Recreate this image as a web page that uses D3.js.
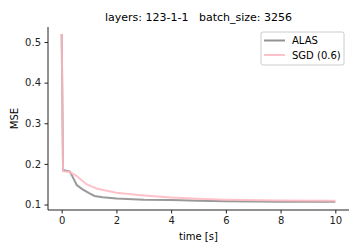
<!DOCTYPE html>
<html>
<head>
<meta charset="utf-8">
<script src="https://cdn.jsdelivr.net/npm/d3@7"></script>
<style>
  body { margin: 0; background: #fff; }
  text { font-family: "DejaVu Sans", sans-serif; }
</style>
</head>
<body>
<div id="app"></div>
<script>
// time [s] and MSE
const alasTime = [0, 0.05, 0.3, 0.4, 0.55, 0.75, 1.0, 1.2, 1.5, 2, 3, 4, 5, 6, 8, 10];
const alasMse = [0.52, 0.185, 0.181, 0.168, 0.148, 0.138, 0.128, 0.121, 0.118, 0.115, 0.112, 0.111, 0.109, 0.108, 0.107, 0.107];
const sgdTime = [0, 0.05, 0.3, 0.55, 0.9, 1.3, 2, 2.9, 4, 5, 6, 8, 10];
const sgdMse = [0.52, 0.182, 0.18, 0.17, 0.15, 0.139, 0.129, 0.123, 0.117, 0.114, 0.112, 0.11, 0.109];
const xTicks = [0, 2, 4, 6, 8, 10];
const yTicks = [0.1, 0.2, 0.3, 0.4, 0.5];
const seriesNames = ["ALAS", "SGD (0.6)"];

const w = 360, h = 252;
const m = { left: 48, right: 11, top: 27, bottom: 42 };

const svg = d3.select("#app").append("svg").attr("width", w).attr("height", h);

const x = d3.scaleLinear().domain([-0.5, 10.5]).range([m.left, w - m.right]);
const y = d3.scaleLinear().domain([0.0865, 0.537]).range([h - m.bottom, m.top]);

// axes
const xAxis = d3.axisBottom(x).tickValues(xTicks).tickSize(3.5).tickPadding(3.5).tickFormat(d3.format("d"));
const yAxis = d3.axisLeft(y).tickValues(yTicks).tickSize(3.5).tickPadding(3.5).tickFormat(d3.format(".1f"));

svg.append("g")
  .attr("transform", "translate(0," + (h - m.bottom) + ")")
  .call(xAxis)
  .call(g => g.select(".domain").attr("d", `M${m.left},0H${w - m.right}`));
svg.append("g")
  .attr("transform", "translate(" + m.left + ",0)")
  .call(yAxis)
  .call(g => g.select(".domain").attr("d", `M0,${m.top}V${h - m.bottom}`));
svg.selectAll(".tick text").attr("font-size", 10).attr("fill", "#222");
svg.selectAll(".tick line").attr("stroke", "#222");
svg.selectAll(".domain").attr("stroke", "#222");

// lines
const line = d3.line().x(d => x(d[0])).y(d => y(d[1]));
svg.append("path")
  .datum(d3.zip(alasTime, alasMse))
  .attr("d", line)
  .attr("fill", "none")
  .attr("stroke", "grey")
  .attr("stroke-opacity", 0.8)
  .attr("stroke-width", 2);
svg.append("path")
  .datum(d3.zip(sgdTime, sgdMse))
  .attr("d", line)
  .attr("fill", "none")
  .attr("stroke", "lightpink")
  .attr("stroke-opacity", 0.85)
  .attr("stroke-width", 2);

// labels
svg.append("text")
  .attr("x", (m.left + w - m.right) / 2).attr("y", 20.5)
  .attr("text-anchor", "middle").attr("font-size", 11)
  .text("layers: 123-1-1\u00a0\u00a0\u00a0batch_size: 3256");
svg.append("text")
  .attr("x", (m.left + w - m.right) / 2).attr("y", 239.5)
  .attr("text-anchor", "middle").attr("font-size", 10)
  .text("time [s]");
svg.append("text")
  .attr("transform", "translate(18," + ((m.top + h - m.bottom) / 2) + ") rotate(-90)")
  .attr("text-anchor", "middle").attr("font-size", 10)
  .text("MSE");

// legend
const lg = svg.append("g").attr("transform", "translate(261,32)");
lg.append("rect")
  .attr("width", 83).attr("height", 33).attr("rx", 2)
  .attr("fill", "white").attr("fill-opacity", 0.8)
  .attr("stroke", "#ccc");
const colors = ["grey", "lightpink"];
seriesNames.forEach((name, i) => {
  lg.append("line")
    .attr("x1", 3).attr("x2", 24)
    .attr("y1", 8.5 + i * 14.5).attr("y2", 8.5 + i * 14.5)
    .attr("stroke", colors[i]).attr("stroke-opacity", 0.85).attr("stroke-width", 2);
  lg.append("text")
    .attr("x", 31).attr("y", 8.5 + i * 14.5).attr("dy", "0.35em")
    .attr("font-size", 10)
    .text(name);
});
</script>
</body>
</html>
